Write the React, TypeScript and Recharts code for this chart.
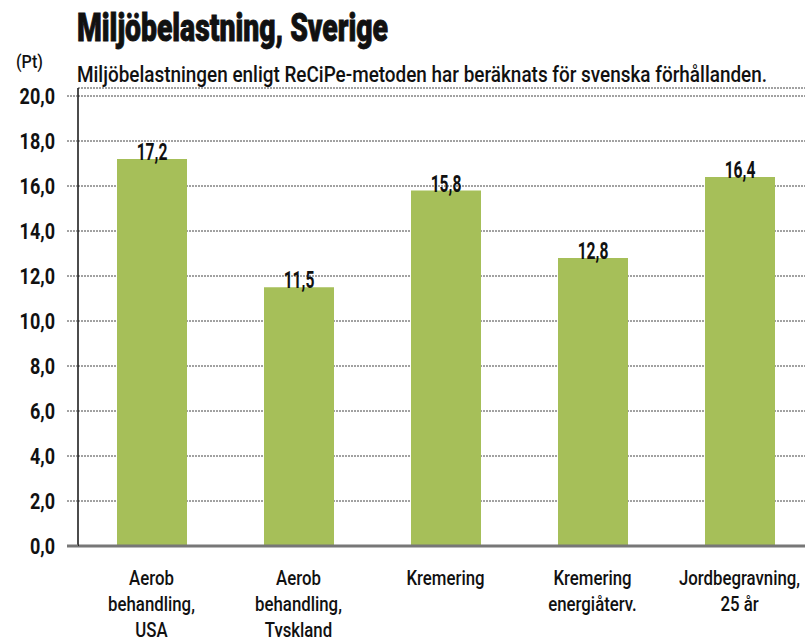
import React from 'react';
import { BarChart, Bar, XAxis, YAxis, CartesianGrid, LabelList } from 'recharts';

const categories = [
  'Aerob\nbehandling,\nUSA',
  'Aerob\nbehandling,\nTyskland',
  'Kremering',
  'Kremering\nenergiåterv.',
  'Jordbegravning,\n25 år',
];
const values = [17.2, 11.5, 15.8, 12.8, 16.4];
const yTicks = [0, 2, 4, 6, 8, 10, 12, 14, 16, 18, 20];

const title = 'Miljöbelastning, Sverige';
const subtitle = 'Miljöbelastningen enligt ReCiPe-metoden har beräknats för svenska förhållanden.';
const unit = '(Pt)';

const data = categories.map((name, i) => ({ name, value: values[i] }));

const FONT = 'Roboto, "DejaVu Sans Condensed", sans-serif';
const fmt = (v: number) => v.toFixed(1).replace('.', ',');

const YTick = (props: any) => {
  const { x, y, payload } = props;
  const ax = x + 23;
  return (
    <g>
      {payload.value === 0 ? (
        <line x1={ax - 11} x2={ax} y1={y} y2={y} stroke="#777" strokeWidth={3} />
      ) : (
        <line x1={ax - 11} x2={ax} y1={y} y2={y} stroke="#444" strokeWidth={1} strokeDasharray="2 1" />
      )}
      <text
        transform={`translate(${x},${y + 8}) scale(0.8,1)`}
        textAnchor="end"
        fontFamily={FONT}
        fontWeight={700}
        fontSize={22.5}
        fill="#111"
      >
        {fmt(payload.value)}
      </text>
    </g>
  );
};

const XTick = (props: any) => {
  const { x, y, payload } = props;
  const lines = String(payload.value).split('\n');
  return (
    <g transform={`translate(${x},${y}) scale(0.8,1)`}>
      <text textAnchor="middle" fontFamily={FONT} fontWeight={500} fontSize={21} fill="#111">
        {lines.map((l, i) => (
          <tspan key={i} x={0} y={39 + i * 26}>
            {l}
          </tspan>
        ))}
      </text>
    </g>
  );
};

const BarValue = (props: any) => {
  const { x, y, width, value } = props;
  return (
    <text
      transform={`translate(${Number(x) + Number(width) / 2},${Number(y) + 1}) scale(0.68,1)`}
      textAnchor="middle"
      fontFamily={FONT}
      fontWeight={700}
      fontSize={23}
      fill="#111"
    >
      {fmt(Number(value))}
    </text>
  );
};

export default function App() {
  return (
    <div style={{ position: 'fixed', left: 0, top: 0, width: 805, height: 637, overflow: 'hidden', background: '#fff' }}>
      <svg width={805} height={100} style={{ position: 'absolute', left: 0, top: 0 }}>
        <text x={77} y={41} fontFamily={FONT} fontWeight={900} fontSize={38} fill="#111" stroke="#111" strokeWidth={0.9} textLength={311} lengthAdjust="spacingAndGlyphs">
          {title}
        </text>
        <text x={16} y={68} fontFamily={FONT} fontWeight={500} fontSize={18} fill="#111" textLength={27} lengthAdjust="spacingAndGlyphs">
          {unit}
        </text>
        <text x={77} y={82} fontFamily={FONT} fontWeight={500} fontSize={21.5} fill="#111" textLength={690} lengthAdjust="spacingAndGlyphs">
          {subtitle}
        </text>
      </svg>
      <div style={{ position: 'absolute', left: 0, top: 0 }}>
        <BarChart width={813} height={637} data={data} margin={{ top: 88, right: 0, bottom: 0, left: 0 }} barSize={70}>
          <CartesianGrid horizontal vertical={false} stroke="#444" strokeDasharray="2 1" />
          <XAxis
            dataKey="name"
            interval={0}
            tick={<XTick />}
            tickLine={false}
            tickSize={0}
            tickMargin={0}
            height={91}
            axisLine={{ stroke: '#777', strokeWidth: 3 }}
          />
          <YAxis
            domain={[0, 20]}
            ticks={yTicks}
            interval={0}
            width={78}
            padding={{ top: 8, bottom: 0 }}
            tick={<YTick />}
            tickLine={false}
            tickSize={11}
            tickMargin={12}
            axisLine={{ stroke: '#111', strokeWidth: 1.5 }}
          />
          <Bar dataKey="value" fill="#a6bf59" isAnimationActive={false}>
            <LabelList dataKey="value" content={<BarValue />} />
          </Bar>
        </BarChart>
      </div>
    </div>
  );
}
